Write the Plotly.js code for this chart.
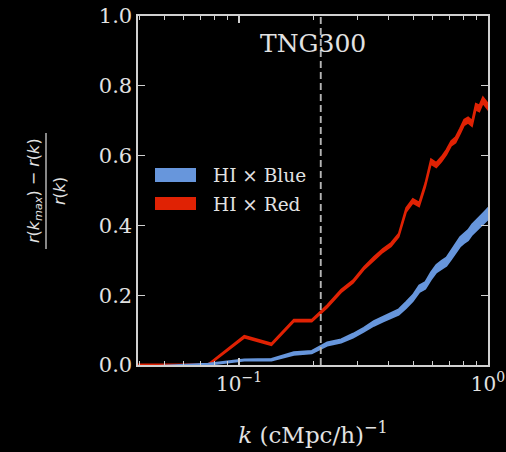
<!DOCTYPE html>
<html>
<head>
<meta charset="utf-8">
<script src="https://cdn.plot.ly/plotly-3.0.1.min.js"></script>
<style>
  html, body { margin: 0; padding: 0; background: #000; }
  #chart { width: 506px; height: 452px; }
</style>
</head>
<body>
<div id="chart"></div>
<script>
// Wavenumbers k in (cMpc/h)^-1
const k = [0.014, 0.045, 0.075, 0.105, 0.135, 0.166, 0.196, 0.226, 0.257, 0.287,
           0.317, 0.348, 0.378, 0.408, 0.438, 0.469, 0.499, 0.529, 0.560, 0.590,
           0.620, 0.651, 0.681, 0.711, 0.741, 0.772, 0.802, 0.832, 0.863, 0.893,
           0.923, 0.954, 0.984, 1.014];

// HI x Red: relative decorrelation and its half-width
const redMid = [0.0, 0.0, 0.0, 0.081, 0.059, 0.127, 0.127, 0.168, 0.212, 0.239,
                0.277, 0.305, 0.328, 0.345, 0.372, 0.444, 0.470, 0.460, 0.516, 0.583,
                0.573, 0.590, 0.610, 0.635, 0.645, 0.670, 0.695, 0.702, 0.692, 0.740,
                0.735, 0.759, 0.745, 0.735];
const redErr = [0.002, 0.002, 0.002, 0.003, 0.003, 0.003, 0.003, 0.004, 0.004, 0.004,
                0.004, 0.005, 0.005, 0.005, 0.005, 0.006, 0.006, 0.006, 0.006, 0.007,
                0.007, 0.007, 0.007, 0.007, 0.008, 0.008, 0.008, 0.008, 0.008, 0.009,
                0.009, 0.009, 0.009, 0.009];

// HI x Blue: relative decorrelation and its half-width
const blueMid = [0.0, -0.005, 0.002, 0.014, 0.015, 0.033, 0.037, 0.060, 0.069, 0.084,
                 0.101, 0.119, 0.131, 0.142, 0.152, 0.172, 0.192, 0.218, 0.228, 0.255,
                 0.276, 0.287, 0.296, 0.315, 0.335, 0.353, 0.363, 0.372, 0.388, 0.399,
                 0.410, 0.418, 0.428, 0.438];
const blueErr = [0.002, 0.002, 0.002, 0.002, 0.003, 0.004, 0.004, 0.005, 0.005, 0.006,
                 0.006, 0.007, 0.007, 0.008, 0.008, 0.009, 0.009, 0.010, 0.010, 0.011,
                 0.011, 0.012, 0.012, 0.013, 0.013, 0.014, 0.014, 0.015, 0.015, 0.016,
                 0.016, 0.017, 0.017, 0.017];

// Resolution limit marker
const kLimit = 0.213;

const seriesNames = ['HI × Blue', 'HI × Red'];
const blue = '#6796dc';
const red = '#e02204';

const lo = (m, e) => m.map((v, i) => v - e[i]);
const hi = (m, e) => m.map((v, i) => v + e[i]);

function band(mid, err, color) {
  return [
    { x: k, y: lo(mid, err), type: 'scatter', mode: 'lines',
      line: { color: color, width: 1.6 }, showlegend: false, hoverinfo: 'skip' },
    { x: k, y: hi(mid, err), type: 'scatter', mode: 'lines', fill: 'tonexty',
      fillcolor: color, line: { color: color, width: 1.6 }, showlegend: false }
  ];
}

const traces = [
  ...band(redMid, redErr, red),
  ...band(blueMid, blueErr, blue),
  { x: [kLimit, kLimit], y: [0, 1], type: 'scatter', mode: 'lines',
    line: { color: '#b4b4b4', width: 1.9, dash: '7px,4px' }, showlegend: false }
];

const txt = '#e2e2e2';
const axLine = '#d0d0d0';
const serif = 'DejaVu Serif';

// plot area in pixels: x 138..488, y 16..365
const px = x => (x - 138) / 350;
const py = y => (365 - y) / 349;

const layout = {
  width: 506, height: 452,
  paper_bgcolor: '#000', plot_bgcolor: '#000',
  margin: { l: 138, r: 18, t: 16, b: 87, pad: 0 },
  showlegend: false,
  font: { family: serif, color: txt },
  xaxis: {
    type: 'log', range: [Math.log10(0.0393), 0],
    tickmode: 'array', tickvals: [0.1, 1],
    ticktext: ['10<sup>−1</sup>', '10<sup>0</sup>'],
    ticks: 'inside', ticklen: 7, tickwidth: 1.3, tickcolor: axLine,
    minor: { ticks: 'inside', ticklen: 4, tickwidth: 1, tickcolor: axLine,
             tickmode: 'array',
             tickvals: [0.04, 0.05, 0.06, 0.07, 0.08, 0.09, 0.2, 0.3, 0.4, 0.5, 0.6, 0.7, 0.8, 0.9] },
    showline: true, linecolor: axLine, linewidth: 1.6, mirror: 'allticks',
    showgrid: false, zeroline: false,
    tickfont: { family: serif, size: 20, color: txt },
    title: { text: '<i>k</i> (cMpc/h)<sup>−1</sup>', font: { family: serif, size: 23, color: txt }, standoff: 32 }
  },
  yaxis: {
    range: [0, 1], tickmode: 'array', tickvals: [0, 0.2, 0.4, 0.6, 0.8, 1.0],
    ticktext: ['0.0', '0.2', '0.4', '0.6', '0.8', '1.0'],
    ticks: 'inside', ticklen: 7, tickwidth: 1.3, tickcolor: axLine,
    showline: true, linecolor: axLine, linewidth: 1.6, mirror: 'allticks',
    showgrid: false, zeroline: false,
    tickfont: { family: serif, size: 21, color: txt }
  },
  shapes: [
    // fraction bar of the y label
    { type: 'line', xref: 'paper', yref: 'paper', x0: px(46), x1: px(46), y0: py(133), y1: py(249),
      line: { color: txt, width: 1.2 } },
    // legend patches
    { type: 'rect', xref: 'paper', yref: 'paper', x0: px(155), x1: px(196), y0: py(182), y1: py(168),
      fillcolor: blue, line: { width: 0 } },
    { type: 'rect', xref: 'paper', yref: 'paper', x0: px(155), x1: px(196), y0: py(210), y1: py(197),
      fillcolor: red, line: { width: 0 } }
  ],
  annotations: [
    { text: 'TNG300', xref: 'paper', yref: 'paper', x: px(313), y: py(44),
      xanchor: 'center', yanchor: 'middle', showarrow: false,
      font: { family: serif, size: 25, color: txt } },
    { text: seriesNames[0], xref: 'paper', yref: 'paper', x: px(211), y: py(175),
      xanchor: 'left', yanchor: 'middle', showarrow: false,
      font: { family: serif, size: 18.5, color: txt } },
    { text: seriesNames[1], xref: 'paper', yref: 'paper', x: px(211), y: py(204),
      xanchor: 'left', yanchor: 'middle', showarrow: false,
      font: { family: serif, size: 18.5, color: txt } },
    { text: '<i>r</i>(<i>k</i><sub><i>max</i></sub>) − <i>r</i>(<i>k</i>)', textangle: -90,
      xref: 'paper', yref: 'paper', x: px(34), y: py(191),
      xanchor: 'center', yanchor: 'middle', showarrow: false,
      font: { family: 'DejaVu Sans', size: 16, color: txt } },
    { text: '<i>r</i>(<i>k</i>)', textangle: -90,
      xref: 'paper', yref: 'paper', x: px(59), y: py(191),
      xanchor: 'center', yanchor: 'middle', showarrow: false,
      font: { family: 'DejaVu Sans', size: 16, color: txt } }
  ]
};

Plotly.newPlot('chart', traces, layout, { staticPlot: true, displayModeBar: false });
</script>
</body>
</html>
